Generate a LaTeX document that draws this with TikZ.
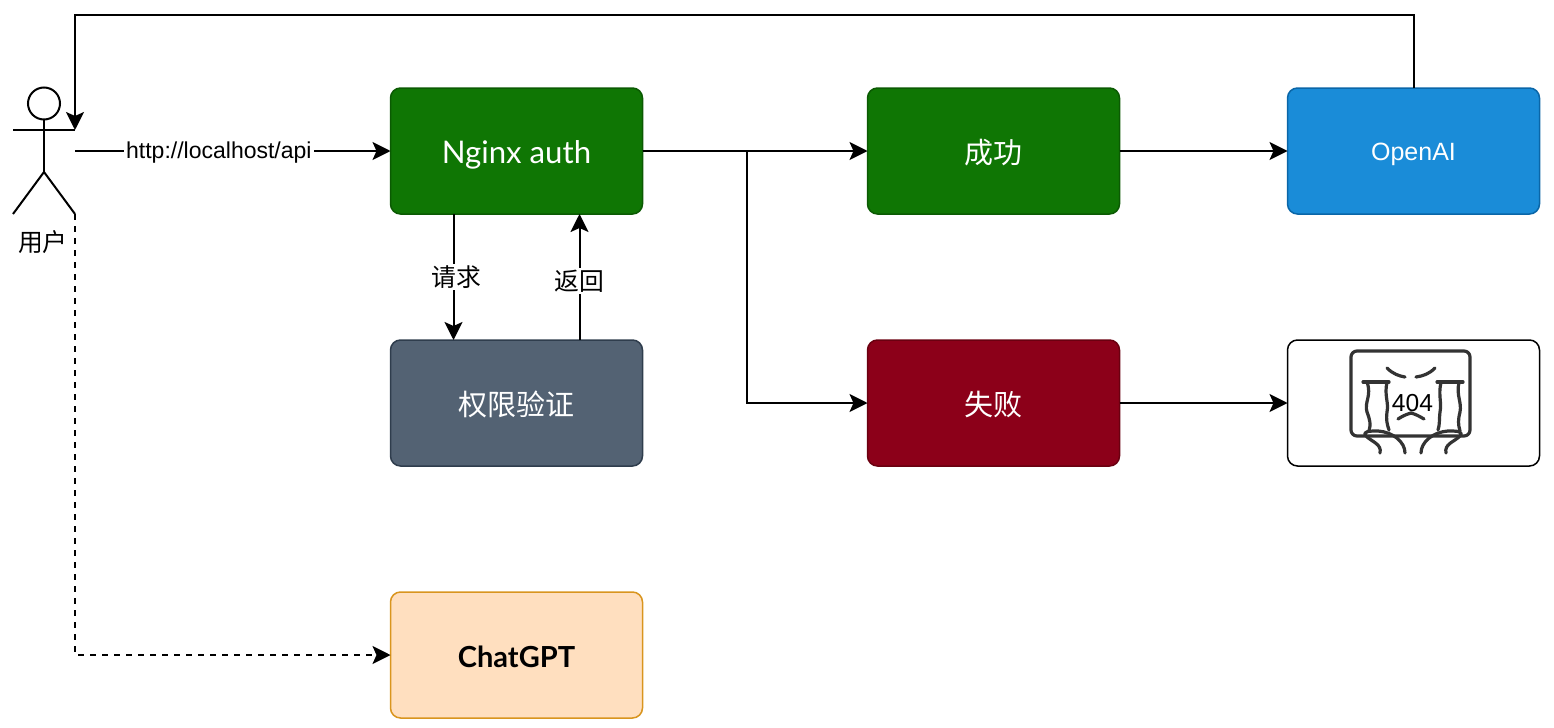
\documentclass[tikz,border=0pt]{standalone}
\usepackage{fontspec}
\setmainfont{Liberation Sans}
\newfontfamily\cjk{Noto Sans CJK SC}
\newfontfamily\hand{Lato}
\usepackage{tikz}
\usetikzlibrary{arrows.meta}
\definecolor{okfill}{HTML}{0F7604}
\definecolor{okline}{HTML}{0B5A03}
\definecolor{bluefill}{HTML}{1A8CD8}
\definecolor{blueline}{HTML}{0A66A8}
\definecolor{redfill}{HTML}{8C0019}
\definecolor{redline}{HTML}{6A0010}
\definecolor{slatefill}{HTML}{536273}
\definecolor{slateline}{HTML}{2F3D4D}
\definecolor{peachfill}{HTML}{FFDFBF}
\definecolor{peachline}{HTML}{D9951E}
\definecolor{iconline}{HTML}{333333}
\tikzset{
    box/.style={draw, rounded corners=5pt, line width=0.75pt, minimum width=126pt, minimum height=63pt, inner sep=0pt, outer sep=0pt, align=center},
    link/.style={draw, line width=1pt, -{Stealth[length=9pt, width=9pt, inset=2pt]}},
    linklabel/.style={fill=white, inner sep=1pt, font=\fontsize{12.4}{14}\selectfont\cjk},
    iconstroke/.style={draw=iconline, line width=1.6pt, line cap=round, line join=round}
}
\begin{document}
\begin{tikzpicture}[x=0.5pt, y=-0.5pt]
    \useasboundingbox (0,0) rectangle (1554,728);

    % boxes
    \node[box, fill=okfill, draw=okline, text=white, text height=12pt, text depth=0pt, font=\fontsize{15.6}{17}\selectfont\hand] (nginx) at (516.5,151) {Nginx auth};
    \node[box, fill=slatefill, draw=slateline, text=white, text height=12.5pt, text depth=0pt, font=\fontsize{14.5}{17}\selectfont\cjk] (verify) at (516.5,403) {权限验证};
    \node[box, fill=peachfill, draw=peachline, text height=12pt, text depth=0pt, font=\fontsize{14.5}{17}\selectfont\hand\bfseries] (chatgpt) at (516.5,655) {ChatGPT};
    \node[box, fill=okfill, draw=okline, text=white, text height=12.5pt, text depth=0pt, font=\fontsize{14.5}{17}\selectfont\cjk] (success) at (993.5,151) {成功};
    \node[box, fill=redfill, draw=redline, text=white, text height=12.5pt, text depth=0pt, font=\fontsize{14.5}{17}\selectfont\cjk] (fail) at (993.5,403) {失败};
    \node[box, fill=bluefill, draw=blueline, text=white, text height=9pt, text depth=0pt, font=\fontsize{12.5}{15}\selectfont] (openai) at (1413.5,151) {OpenAI};
    \node[box, fill=white, draw=black] (notfound) at (1413.5,403) {};

    % 404 picture
    \draw[iconstroke, rounded corners=3pt] (1351,351) rectangle (1470,436);
    \draw[iconstroke] (1387,368) .. controls (1393,374) and (1399,376) .. (1405,377);
    \draw[iconstroke] (1416,377) .. controls (1423,376) and (1429,374) .. (1435,368);
    \draw[iconstroke] (1363,382) -- (1389,382);
    \draw[iconstroke] (1367,382) .. controls (1372,396) and (1364,402) .. (1367,412) .. controls (1370,420) and (1371,424) .. (1369,431);
    \draw[iconstroke] (1387,382) .. controls (1384,396) and (1389,402) .. (1387,412) .. controls (1386,420) and (1387,424) .. (1389,430);
    \draw[iconstroke] (1437,382) -- (1463,382);
    \draw[iconstroke] (1441,382) .. controls (1438,396) and (1442,402) .. (1440,412) .. controls (1439,420) and (1440,424) .. (1438,430);
    \draw[iconstroke] (1459,382) .. controls (1456,396) and (1462,402) .. (1460,412) .. controls (1458,420) and (1458,424) .. (1460,431);
    \draw[iconstroke] (1398,419) .. controls (1404,415) and (1408,414) .. (1411,413) .. controls (1415,414) and (1419,416) .. (1424,419);
    \draw[iconstroke] (1380,453) .. controls (1382,444) and (1372,442) .. (1366,436) .. controls (1362,431) and (1370,431) .. (1378,431) .. controls (1393,432) and (1405,442) .. (1405,453);
    \draw[iconstroke] (1446,453) .. controls (1444,444) and (1454,442) .. (1460,436) .. controls (1464,431) and (1456,431) .. (1448,431) .. controls (1433,432) and (1421,442) .. (1421,453);
    \node[font=\fontsize{12.3}{15}\selectfont, inner sep=0pt] (codetext) at (1412.5,403) {404};

    % user figure
    \node[circle, draw, line width=1pt, minimum size=16pt, inner sep=0pt, outer sep=0pt] (head) at (44,103.5) {};
    \coordinate (hip) at (44,172);
    \coordinate (armleft) at (13,130);
    \coordinate (armright) at (75,130);
    \coordinate (footleft) at (13,214);
    \coordinate (footright) at (75,214);
    \draw[line width=1pt] (head.south) -- (hip);
    \draw[line width=1pt] (armleft) -- (armright);
    \draw[line width=1pt] (footleft) -- (hip) -- (footright);
    \node[inner sep=0pt, font=\fontsize{12.4}{14}\selectfont\cjk] (username) at (43,242) {用户};

    % links
    \coordinate (userout) at (75,151);
    \coordinate (branch) at (747,151);
    \coordinate (topright) at (1413.5,15);
    \coordinate (topleft) at (75,15);
    \coordinate (dashcorner) at (75,655);
    \draw[link] (userout) -- node[fill=white, inner sep=1pt, text height=7pt, text depth=0pt, font=\fontsize{11.5}{14}\selectfont, pos=0.456] (urltext) {http://localhost/api} (nginx.west);
    \draw[link] (nginx.east) -- (success.west);
    \draw[link] (nginx.east) -- (branch) |- (fail.west);
    \draw[link] (success.east) -- (openai.west);
    \draw[link] (fail.east) -- (notfound.west);
    \draw[link] (openai.north) -- (topright) -- (topleft) -- (armright);
    \draw[link] ([xshift=-31.5pt]nginx.south) -- node[linklabel, pos=0.5, xshift=1.5pt] (asktext) {请求} ([xshift=-31.5pt]verify.north);
    \draw[link] ([xshift=31.5pt]verify.north) -- node[linklabel, pos=0.47] (backtext) {返回} ([xshift=31.5pt]nginx.south);
    \draw[link, dashed] (footright) -- (dashcorner) -- (chatgpt.west);
\end{tikzpicture}
\end{document}
